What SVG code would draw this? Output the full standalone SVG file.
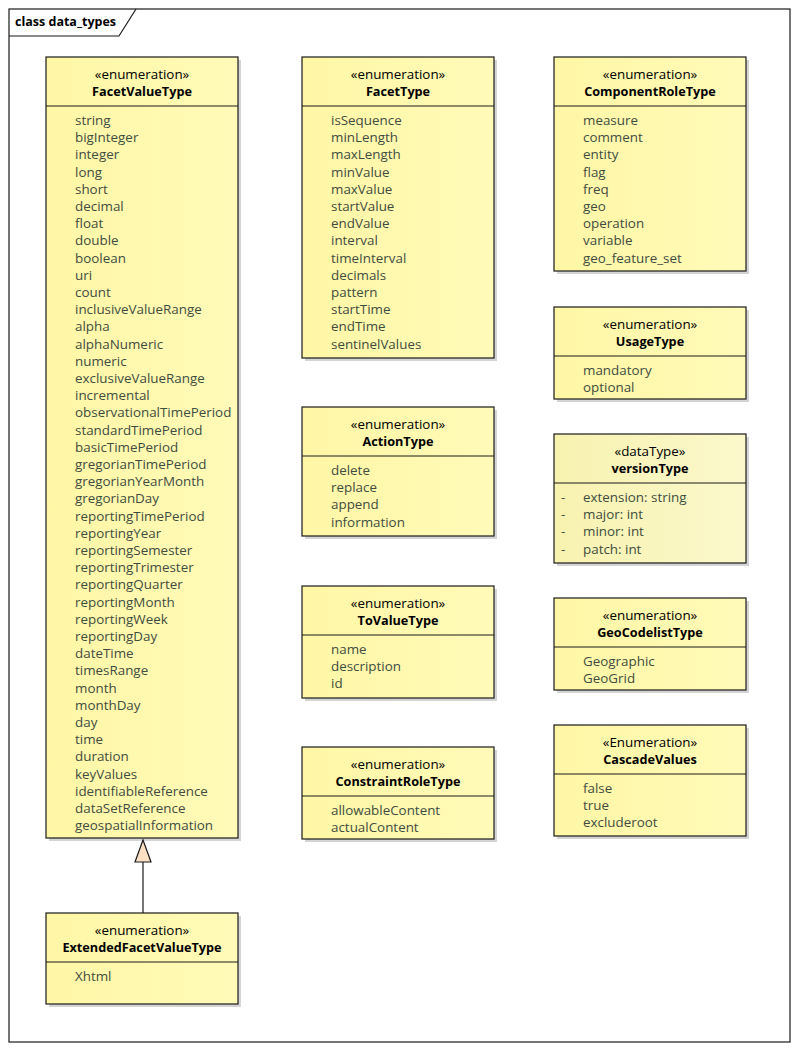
<svg xmlns="http://www.w3.org/2000/svg" width="798" height="1050" viewBox="0 0 798 1050">
<defs>
<linearGradient id="g" x1="0" y1="0" x2="1" y2="0">
<stop offset="0" stop-color="#FFF7A6"/>
<stop offset="1" stop-color="#FFFAB8"/>
</linearGradient>
<linearGradient id="g2" x1="0" y1="0" x2="1" y2="0">
<stop offset="0" stop-color="#F8F2B0"/>
<stop offset="1" stop-color="#FBF8CC"/>
</linearGradient>
</defs>
<style>
.sh{fill:#B8B8B8;opacity:0.6}
.bx{fill:url(#g);stroke:#1A1A1A;stroke-width:1.2}
.bx2{fill:url(#g2);stroke:#1A1A1A;stroke-width:1.2}
.dv{stroke:#1A1A1A;stroke-width:1}
.st{font-family:"Open Sans","Noto Sans",sans-serif;font-size:13.4px;fill:#000;text-anchor:middle}
.nm{font-family:"Open Sans","Noto Sans",sans-serif;font-size:12.7px;font-weight:bold;fill:#000;text-anchor:middle}
.it{font-family:"Open Sans","Noto Sans",sans-serif;font-size:13.4px;fill:#3F4D3F}
.fr{font-family:"Open Sans","Noto Sans",sans-serif;font-size:12.5px;font-weight:bold;fill:#000}
</style>
<rect x="0" y="0" width="798" height="1050" fill="#FFFFFF"/>
<g id="frame">
<rect x="9" y="9" width="781" height="1033" fill="none" stroke="#1A1A1A" stroke-width="1.2"/>
<path d="M9 36 H119 L136 9" fill="none" stroke="#1A1A1A" stroke-width="1.2"/>
<text x="15" y="26" class="fr">class data_types</text>
</g>

<g id="FacetValueType">
<rect x="49" y="60" width="192" height="781" class="sh"/>
<rect x="46" y="57" width="192" height="781" class="bx"/>
<line x1="46" y1="106" x2="238" y2="106" class="dv"/>
<text x="142" y="79" class="st">«enumeration»</text>
<text x="142" y="96" class="nm">FacetValueType</text>
<text class="it" x="75">
<tspan x="75" y="125">string</tspan>
<tspan x="75" y="142.2">bigInteger</tspan>
<tspan x="75" y="159.4">integer</tspan>
<tspan x="75" y="176.6">long</tspan>
<tspan x="75" y="193.8">short</tspan>
<tspan x="75" y="211">decimal</tspan>
<tspan x="75" y="228.2">float</tspan>
<tspan x="75" y="245.4">double</tspan>
<tspan x="75" y="262.6">boolean</tspan>
<tspan x="75" y="279.8">uri</tspan>
<tspan x="75" y="297">count</tspan>
<tspan x="75" y="314.2">inclusiveValueRange</tspan>
<tspan x="75" y="331.4">alpha</tspan>
<tspan x="75" y="348.6">alphaNumeric</tspan>
<tspan x="75" y="365.8">numeric</tspan>
<tspan x="75" y="383">exclusiveValueRange</tspan>
<tspan x="75" y="400.2">incremental</tspan>
<tspan x="75" y="417.4">observationalTimePeriod</tspan>
<tspan x="75" y="434.6">standardTimePeriod</tspan>
<tspan x="75" y="451.8">basicTimePeriod</tspan>
<tspan x="75" y="469">gregorianTimePeriod</tspan>
<tspan x="75" y="486.2">gregorianYearMonth</tspan>
<tspan x="75" y="503.4">gregorianDay</tspan>
<tspan x="75" y="520.6">reportingTimePeriod</tspan>
<tspan x="75" y="537.8">reportingYear</tspan>
<tspan x="75" y="555">reportingSemester</tspan>
<tspan x="75" y="572.2">reportingTrimester</tspan>
<tspan x="75" y="589.4">reportingQuarter</tspan>
<tspan x="75" y="606.6">reportingMonth</tspan>
<tspan x="75" y="623.8">reportingWeek</tspan>
<tspan x="75" y="641">reportingDay</tspan>
<tspan x="75" y="658.2">dateTime</tspan>
<tspan x="75" y="675.4">timesRange</tspan>
<tspan x="75" y="692.6">month</tspan>
<tspan x="75" y="709.8">monthDay</tspan>
<tspan x="75" y="727">day</tspan>
<tspan x="75" y="744.2">time</tspan>
<tspan x="75" y="761.4">duration</tspan>
<tspan x="75" y="778.6">keyValues</tspan>
<tspan x="75" y="795.8">identifiableReference</tspan>
<tspan x="75" y="813">dataSetReference</tspan>
<tspan x="75" y="830.2">geospatialInformation</tspan>
</text>
</g>

<g id="ExtendedFacetValueType">
<rect x="49" y="916" width="192" height="91" class="sh"/>
<rect x="46" y="913" width="192" height="91" class="bx"/>
<line x1="46" y1="962" x2="238" y2="962" class="dv"/>
<text x="142" y="935" class="st">«enumeration»</text>
<text x="142" y="952" class="nm">ExtendedFacetValueType</text>
<text class="it" x="75" y="981">Xhtml</text>
</g>

<g id="FacetType">
<rect x="305" y="60" width="192" height="301" class="sh"/>
<rect x="302" y="57" width="192" height="301" class="bx"/>
<line x1="302" y1="106" x2="494" y2="106" class="dv"/>
<text x="398" y="79" class="st">«enumeration»</text>
<text x="398" y="96" class="nm">FacetType</text>
<text class="it">
<tspan x="331" y="125">isSequence</tspan>
<tspan x="331" y="142.2">minLength</tspan>
<tspan x="331" y="159.4">maxLength</tspan>
<tspan x="331" y="176.6">minValue</tspan>
<tspan x="331" y="193.8">maxValue</tspan>
<tspan x="331" y="211">startValue</tspan>
<tspan x="331" y="228.2">endValue</tspan>
<tspan x="331" y="245.4">interval</tspan>
<tspan x="331" y="262.6">timeInterval</tspan>
<tspan x="331" y="279.8">decimals</tspan>
<tspan x="331" y="297">pattern</tspan>
<tspan x="331" y="314.2">startTime</tspan>
<tspan x="331" y="331.4">endTime</tspan>
<tspan x="331" y="348.6">sentinelValues</tspan>
</text>
</g>

<g id="ActionType">
<rect x="305" y="410" width="192" height="129" class="sh"/>
<rect x="302" y="407" width="192" height="129" class="bx"/>
<line x1="302" y1="456" x2="494" y2="456" class="dv"/>
<text x="398" y="429" class="st">«enumeration»</text>
<text x="398" y="446" class="nm">ActionType</text>
<text class="it">
<tspan x="331" y="475">delete</tspan>
<tspan x="331" y="492.2">replace</tspan>
<tspan x="331" y="509.4">append</tspan>
<tspan x="331" y="526.6">information</tspan>
</text>
</g>

<g id="ToValueType">
<rect x="305" y="589" width="192" height="112" class="sh"/>
<rect x="302" y="586" width="192" height="112" class="bx"/>
<line x1="302" y1="635" x2="494" y2="635" class="dv"/>
<text x="398" y="608" class="st">«enumeration»</text>
<text x="398" y="625" class="nm">ToValueType</text>
<text class="it">
<tspan x="331" y="654">name</tspan>
<tspan x="331" y="671.2">description</tspan>
<tspan x="331" y="688.4">id</tspan>
</text>
</g>

<g id="ConstraintRoleType">
<rect x="305" y="750" width="192" height="92" class="sh"/>
<rect x="302" y="747" width="192" height="92" class="bx"/>
<line x1="302" y1="796" x2="494" y2="796" class="dv"/>
<text x="398" y="769" class="st">«enumeration»</text>
<text x="398" y="786" class="nm">ConstraintRoleType</text>
<text class="it">
<tspan x="331" y="815">allowableContent</tspan>
<tspan x="331" y="832.2">actualContent</tspan>
</text>
</g>

<g id="ComponentRoleType">
<rect x="557" y="60" width="192" height="214" class="sh"/>
<rect x="554" y="57" width="192" height="214" class="bx"/>
<line x1="554" y1="106" x2="746" y2="106" class="dv"/>
<text x="650" y="79" class="st">«enumeration»</text>
<text x="650" y="96" class="nm">ComponentRoleType</text>
<text class="it">
<tspan x="583" y="125">measure</tspan>
<tspan x="583" y="142.2">comment</tspan>
<tspan x="583" y="159.4">entity</tspan>
<tspan x="583" y="176.6">flag</tspan>
<tspan x="583" y="193.8">freq</tspan>
<tspan x="583" y="211">geo</tspan>
<tspan x="583" y="228.2">operation</tspan>
<tspan x="583" y="245.4">variable</tspan>
<tspan x="583" y="262.6">geo_feature_set</tspan>
</text>
</g>

<g id="UsageType">
<rect x="557" y="310" width="192" height="92" class="sh"/>
<rect x="554" y="307" width="192" height="92" class="bx"/>
<line x1="554" y1="356" x2="746" y2="356" class="dv"/>
<text x="650" y="329" class="st">«enumeration»</text>
<text x="650" y="346" class="nm">UsageType</text>
<text class="it">
<tspan x="583" y="375">mandatory</tspan>
<tspan x="583" y="392.2">optional</tspan>
</text>
</g>

<g id="versionType">
<rect x="557" y="437" width="192" height="129" class="sh"/>
<rect x="554" y="434" width="192" height="129" class="bx2"/>
<line x1="554" y1="483" x2="746" y2="483" class="dv"/>
<text x="650" y="456" class="st">«dataType»</text>
<text x="650" y="473" class="nm">versionType</text>
<text class="it">
<tspan x="561" y="502">-</tspan>
<tspan x="561" y="519.2">-</tspan>
<tspan x="561" y="536.4">-</tspan>
<tspan x="561" y="553.6">-</tspan>
</text>
<text class="it">
<tspan x="583" y="502">extension: string</tspan>
<tspan x="583" y="519.2">major: int</tspan>
<tspan x="583" y="536.4">minor: int</tspan>
<tspan x="583" y="553.6">patch: int</tspan>
</text>
</g>

<g id="GeoCodelistType">
<rect x="557" y="601" width="192" height="92" class="sh"/>
<rect x="554" y="598" width="192" height="92" class="bx"/>
<line x1="554" y1="647" x2="746" y2="647" class="dv"/>
<text x="650" y="620" class="st">«enumeration»</text>
<text x="650" y="637" class="nm">GeoCodelistType</text>
<text class="it">
<tspan x="583" y="666">Geographic</tspan>
<tspan x="583" y="683.2">GeoGrid</tspan>
</text>
</g>

<g id="CascadeValues">
<rect x="557" y="728" width="192" height="111" class="sh"/>
<rect x="554" y="725" width="192" height="111" class="bx"/>
<line x1="554" y1="774" x2="746" y2="774" class="dv"/>
<text x="650" y="747" class="st">«Enumeration»</text>
<text x="650" y="764" class="nm">CascadeValues</text>
<text class="it">
<tspan x="583" y="793">false</tspan>
<tspan x="583" y="810.2">true</tspan>
<tspan x="583" y="827.4">excluderoot</tspan>
</text>
</g>

<g id="connectors">
<line x1="143" y1="913" x2="143" y2="862" stroke="#1A1A1A" stroke-width="1.2"/>
<polygon points="143,840 135,862 151,862" fill="#FCE0C4" stroke="#1A1A1A" stroke-width="1.2"/>
</g>
</svg>
